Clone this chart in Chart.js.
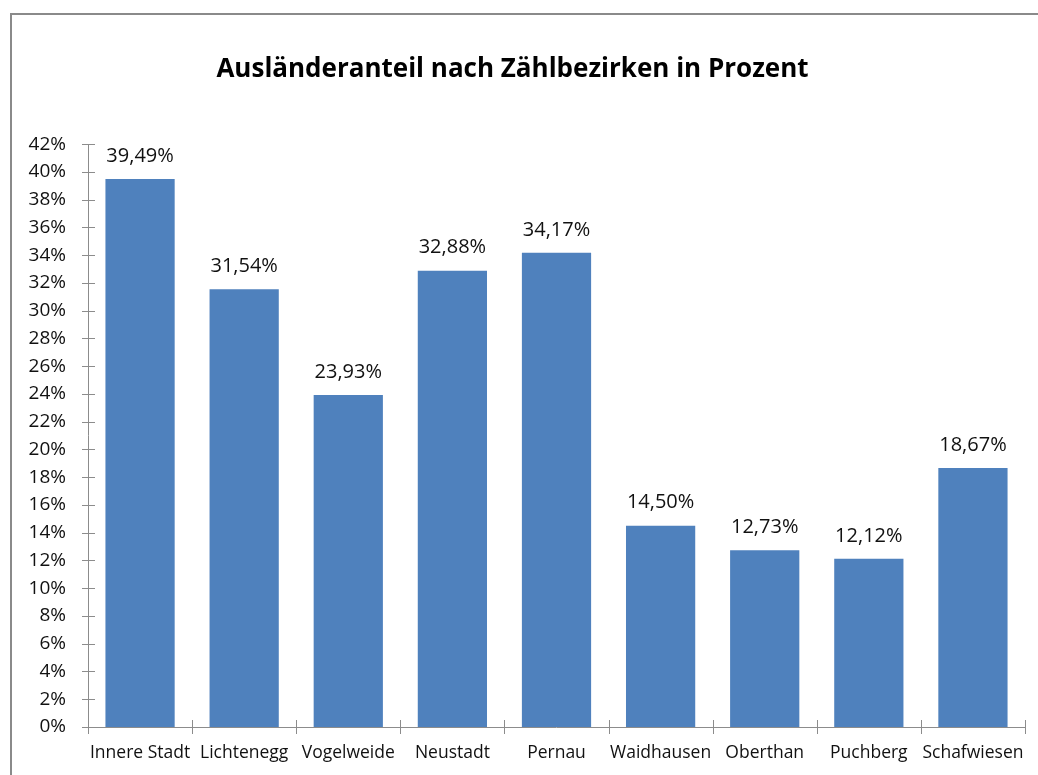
<!DOCTYPE html>
<html>
<head>
<meta charset="utf-8">
<script src="https://cdn.jsdelivr.net/npm/chart.js@4.4.0/dist/chart.umd.min.js"></script>
<style>
  html, body { margin: 0; padding: 0; background: #fff; }
  #wrap { position: absolute; left: 0; top: 0; width: 1038px; height: 775px; }
</style>
</head>
<body>
<div id="wrap"><canvas id="c" width="1038" height="775"></canvas></div>
<script>
const categories = ["Innere Stadt", "Lichtenegg", "Vogelweide", "Neustadt", "Pernau", "Waidhausen", "Oberthan", "Puchberg", "Schafwiesen"];
const values = [39.49, 31.54, 23.93, 32.88, 34.17, 14.50, 12.73, 12.12, 18.67];
const titleText = "Ausländeranteil nach Zählbezirken in Prozent";
const yMin = 0, yMax = 42, yStep = 2;

const FONT = "'Open Sans', 'Noto Sans', sans-serif";
const AXIS_COLOR = "#8c8c8c";

const framePlugin = {
  id: 'frame',
  beforeDraw(chart) {
    const ctx = chart.ctx;
    ctx.save();
    ctx.strokeStyle = "#8a8a8a";
    ctx.lineWidth = 2;
    ctx.beginPath();
    ctx.moveTo(11, 775);
    ctx.lineTo(11, 14);
    ctx.lineTo(1038, 14);
    ctx.stroke();
    ctx.restore();
  }
};

const axesPlugin = {
  id: 'axesTicks',
  afterDatasetsDraw(chart) {
    const ctx = chart.ctx;
    const x = chart.scales.x, y = chart.scales.y;
    const left = x.left, right = x.right, bottom = y.bottom, top = y.top;
    ctx.save();
    ctx.strokeStyle = AXIS_COLOR;
    ctx.lineWidth = 1;
    ctx.beginPath();
    ctx.moveTo(left + 0.5, top);
    ctx.lineTo(left + 0.5, bottom);
    y.ticks.forEach(t => {
      const py = Math.round(y.getPixelForValue(t.value)) + 0.5;
      ctx.moveTo(left - 6, py);
      ctx.lineTo(left + 7, py);
    });
    ctx.moveTo(left, bottom + 0.5);
    ctx.lineTo(right, bottom + 0.5);
    const n = categories.length;
    const w = (x.getPixelForValue(1) - x.getPixelForValue(0));
    for (let i = 0; i <= n; i++) {
      const px = Math.round(x.getPixelForValue(0) - w / 2 + i * w) + 0.5;
      ctx.moveTo(px, bottom - 7);
      ctx.lineTo(px, bottom + 7);
    }
    ctx.stroke();

    const meta = chart.getDatasetMeta(0);
    ctx.fillStyle = "#111";
    ctx.font = "20px " + FONT;
    ctx.textAlign = "center";
    ctx.textBaseline = "middle";
    meta.data.forEach((bar, i) => {
      const txt = values[i].toFixed(2).replace('.', ',') + '%';
      ctx.fillText(txt, bar.x, bar.y - 23);
    });
    ctx.restore();
  }
};

new Chart(document.getElementById('c'), {
  type: 'bar',
  data: {
    labels: categories,
    datasets: [{
      data: values,
      backgroundColor: "#4f81bd",
      borderWidth: 0,
      barPercentage: 0.665,
      categoryPercentage: 1.0
    }]
  },
  options: {
    responsive: false,
    animation: false,
    devicePixelRatio: 1,
    layout: { padding: { left: 0, right: 13, top: 0, bottom: 0 } },
    plugins: {
      legend: { display: false },
      tooltip: { enabled: false },
      title: {
        display: true,
        text: titleText,
        color: "#000",
        font: { family: FONT, size: 26, weight: 'bold' },
        padding: { top: 54, bottom: 59 }
      }
    },
    scales: {
      x: {
        grid: { display: false, drawTicks: false },
        border: { display: false },
        ticks: { color: "#111", font: { family: FONT, size: 17.5 }, padding: 16, maxRotation: 0, autoSkip: false },
        afterFit(s) { s.height = 48; s.paddingLeft = 0; s.paddingRight = 0; }
      },
      y: {
        min: yMin, max: yMax,
        grid: { display: false, drawTicks: false },
        border: { display: false },
        ticks: { stepSize: yStep, color: "#111", font: { family: FONT, size: 19 }, padding: 22,
          callback: v => v + '%' },
        afterFit(s) { s.width = 88; }
      }
    }
  },
  plugins: [framePlugin, axesPlugin]
});
</script>
</body>
</html>
